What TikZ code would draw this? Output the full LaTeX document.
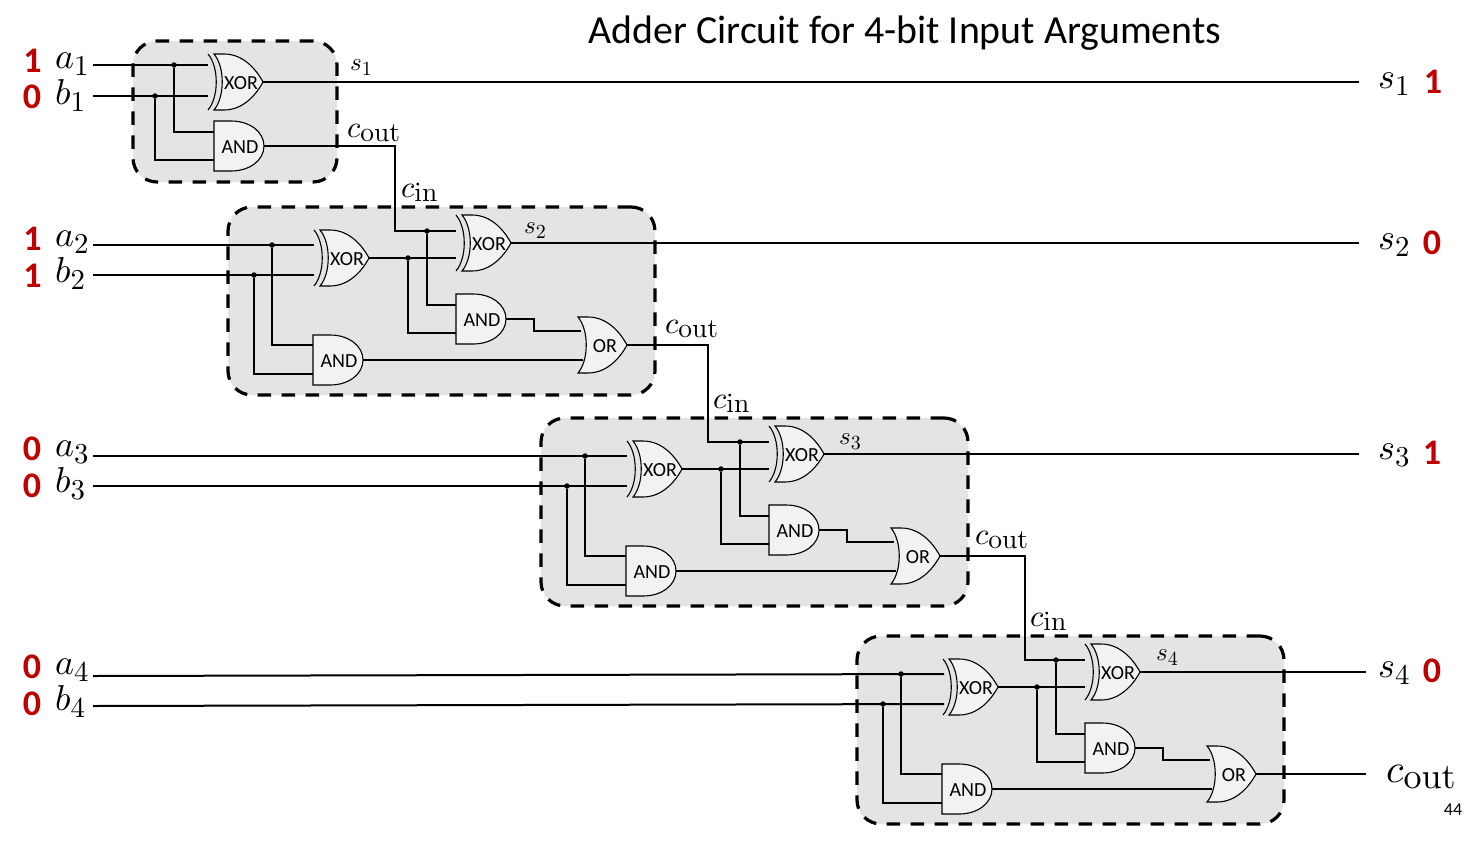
\documentclass[tikz,border=0pt]{standalone}
\usepackage{graphicx}
\usepackage[no-math]{fontspec}
\setmainfont{Carlito}
\definecolor{bitred}{HTML}{C00000}
\definecolor{blockfill}{HTML}{E4E4E4}
\definecolor{gatefill}{HTML}{F2F2F2}
\newcommand\symsub[2]{$#1$\raisebox{-2.2pt}{\scalebox{0.8}{$\mathrm{#2}$}}}
\newcommand\bigsym[2]{\scalebox{3.6}{\symsub{#1}{#2}}}
\newcommand\smallsym[2]{\scalebox{2.5}{\symsub{#1}{#2}}}
\newcommand\csub[1]{$c$\raisebox{-1.6pt}{\scalebox{0.9}{$\mathrm{#1}$}}}
\newcommand\bigc[1]{\scalebox{4}{\csub{#1}}}
\newcommand\smallc[1]{\scalebox{3.05}{\csub{#1}}}
\tikzset{
  wire/.style={draw=black,line width=2pt},
  block/.style={draw=black,fill=blockfill,line width=3.2pt,dash pattern=on 13.5pt off 10.5pt,rounded corners=24pt},
  gateshape/.style={draw=black,fill=gatefill,line width=1.1pt},
  gatetext/.style={inner sep=0pt,font=\fontsize{20}{20}\selectfont},
  bit/.style={inner sep=0pt,text=bitred,font=\fontsize{36}{36}\selectfont\bfseries},
  mlabel/.style={inner sep=0pt,anchor=base west},
  dotn/.style={circle,fill=black,inner sep=0pt,minimum size=5.5pt}
}
% XOR/OR body: #1 name, (#2,#3) left x and centre y
\newcommand\orbody[3]{%
  \path[gateshape] (#2,#3-28) -- (#2+10,#3-28) .. controls (#2+29,#3-28) and (#2+42,#3-13) .. (#2+49,#3)
     .. controls (#2+42,#3+13) and (#2+29,#3+28) .. (#2+10,#3+28) -- (#2,#3+28)
     .. controls (#2+11,#3+15) and (#2+11,#3-15) .. (#2,#3-28) -- cycle;
  \coordinate (#1o) at (#2+49,#3);
}
\newcommand\xorgate[3]{%
  \orbody{#1}{#2}{#3}%
  \draw[line width=1.1pt] (#2-6,#3-28) .. controls (#2+5,#3-15) and (#2+5,#3+15) .. (#2-6,#3+28);
  \node[gatetext] (#1t) at (#2+27,#3+1) {XOR};
}
\newcommand\orgate[3]{%
  \orbody{#1}{#2}{#3}%
  \node[gatetext] (#1t) at (#2+27,#3+1) {OR};
}
\newcommand\andgate[3]{%
  \path[gateshape] (#2,#3-25) -- (#2+17,#3-25) .. controls (#2+36,#3-25) and (#2+50,#3-14) .. (#2+50,#3)
     .. controls (#2+50,#3+14) and (#2+36,#3+25) .. (#2+17,#3+25) -- (#2,#3+25) -- cycle;
  \coordinate (#1o) at (#2+50,#3);
  \node[gatetext] (#1t) at (#2+26,#3+1) {AND};
}
% full adder block in the frame of block 2
\newcommand\fulladder[3]{%
  \begin{scope}[shift={(#2,#3)}]
    \node[block,rectangle,minimum width=427pt,minimum height=188pt,inner sep=0pt] (#1box) at (441.5,301) {};
    \coordinate (#1a) at (272,245); \coordinate (#1b) at (254,275);
    \coordinate (#1c) at (427,231); \coordinate (#1x) at (408,258);
    \xorgate{#1xa}{320}{258}
    \xorgate{#1xb}{462}{243}
    \andgate{#1ab}{456}{319}
    \andgate{#1aa}{313}{360}
    \orgate{#1or}{578}{345}
    \node[dotn] (#1da) at (#1a) {};
    \node[dotn] (#1db) at (#1b) {};
    \node[dotn] (#1dc) at (#1c) {};
    \node[dotn] (#1dx) at (#1x) {};
    \draw[wire] (#1da) -- (272,345) -- (313,345);
    \draw[wire] (#1db) -- (254,374) -- (313,374);
    \draw[wire] (#1xao) -- (456,258);
    \draw[wire] (#1dx) -- (408,333) -- (456,333);
    \draw[wire] (#1c) -- (456,231);
    \draw[wire] (#1dc) -- (427,305) -- (456,305);
    \draw[wire] (#1abo) -- (534,319) -- (534,331) -- (581,331);
    \draw[wire] (#1aao) -- (583,360);
  \end{scope}%
}
\begin{document}
\begin{tikzpicture}[x=1pt,y=-1pt]
\useasboundingbox (0,0) rectangle (1479,862);
\fill[white] (0,0) rectangle (1479,862);
\node[inner sep=0pt,anchor=base,font=\fontsize{39.8}{40}\selectfont] (title) at (905,43) {Adder Circuit for 4-bit Input Arguments};

% block 1
\node[block,rectangle,minimum width=204pt,minimum height=141pt,inner sep=0pt] (box1) at (235,111.5) {};
\coordinate (ina1) at (93,65); \coordinate (inb1) at (93,96);
\xorgate{x1}{214}{82}
\andgate{a1}{214}{146}
\node[dotn] (d1a) at (174,65) {};
\node[dotn] (d1b) at (155,96) {};
\draw[wire] (ina1) -- (208,65);
\draw[wire] (inb1) -- (208,96);
\draw[wire] (d1a) -- (174,132) -- (214,132);
\draw[wire] (d1b) -- (155,160) -- (214,160);
\coordinate (outs1) at (1359,82);
\draw[wire] (x1o) -- (outs1);

% adders
\fulladder{B}{0}{0}
\fulladder{C}{313}{211}
\fulladder{D}{629}{429}

% inputs
\coordinate (ina2) at (93,245); \coordinate (inb2) at (93,275);
\coordinate (ina3) at (93,456); \coordinate (inb3) at (93,486);
\coordinate (ina4) at (93,676); \coordinate (inb4) at (93,706);
\draw[wire] (ina2) -- (314,245);
\draw[wire] (inb2) -- (314,275);
\draw[wire] (ina3) -- (627,456);
\draw[wire] (inb3) -- (627,486);
\draw[wire] (ina4) -- (944,674);
\draw[wire] (inb4) -- (944,704);

% carries
\draw[wire] (a1o) -- (395,146) -- (395,231) -- (Bc);
\draw[wire] (Boro) -- (708,345) -- (708,442) -- (Cc);
\draw[wire] (Coro) -- (1025,556) -- (1025,660) -- (Dc);

% outputs
\coordinate (outs2) at (1359,243); \coordinate (outs3) at (1359,454);
\coordinate (outs4) at (1366,672); \coordinate (outc) at (1366,774);
\draw[wire] (Bxbo) -- (outs2);
\draw[wire] (Cxbo) -- (outs3);
\draw[wire] (Dxbo) -- (outs4);
\draw[wire] (Doro) -- (outc);

% left labels
\node[bit] (v1) at (32.5,61) {1}; \node[mlabel] (la1) at (55,68) {\bigsym{a}{1}};
\node[bit] (v2) at (32,97) {0}; \node[mlabel] (lb1) at (55,104) {\bigsym{b}{1}};
\node[bit] (v3) at (32.5,239) {1}; \node[mlabel] (la2) at (55,246) {\bigsym{a}{2}};
\node[bit] (v4) at (32.5,276) {1}; \node[mlabel] (lb2) at (55,282) {\bigsym{b}{2}};
\node[bit] (v5) at (32,449) {0}; \node[mlabel] (la3) at (55,456) {\bigsym{a}{3}};
\node[bit] (v6) at (32,486) {0}; \node[mlabel] (lb3) at (55,492) {\bigsym{b}{3}};
\node[bit] (v7) at (32,667) {0}; \node[mlabel] (la4) at (55,674) {\bigsym{a}{4}};
\node[bit] (v8) at (32,704) {0}; \node[mlabel] (lb4) at (55,710) {\bigsym{b}{4}};

% right labels
\node[mlabel] (rs1) at (1378,88) {\bigsym{s}{1}}; \node[bit] (r1) at (1433,82) {1};
\node[mlabel] (rs2) at (1378,249) {\bigsym{s}{2}}; \node[bit] (r2) at (1432,243) {0};
\node[mlabel] (rs3) at (1378,459) {\bigsym{s}{3}}; \node[bit] (r3) at (1432,453) {1};
\node[mlabel] (rs4) at (1378,677) {\bigsym{s}{4}}; \node[bit] (r4) at (1432,671) {0};
\node[mlabel] (rc) at (1386,782) {\bigc{out}};

% small labels
\node[mlabel] (s1l) at (350,70) {\smallsym{s}{1}};
\node[mlabel] (s2l) at (524,233) {\smallsym{s}{2}};
\node[mlabel] (s3l) at (839,444) {\smallsym{s}{3}};
\node[mlabel] (s4l) at (1156,660) {\smallsym{s}{4}};
\node[mlabel] (co1) at (347,137) {\smallc{out}};
\node[mlabel] (ci2) at (401,197) {\smallc{in}};
\node[mlabel] (co2) at (665,333) {\smallc{out}};
\node[mlabel] (ci3) at (713,408) {\smallc{in}};
\node[mlabel] (co3) at (975,544) {\smallc{out}};
\node[mlabel] (ci4) at (1030,626) {\smallc{in}};
\node[inner sep=0pt,font=\fontsize{18}{18}\selectfont] (page) at (1453,810) {44};
\end{tikzpicture}
\end{document}
